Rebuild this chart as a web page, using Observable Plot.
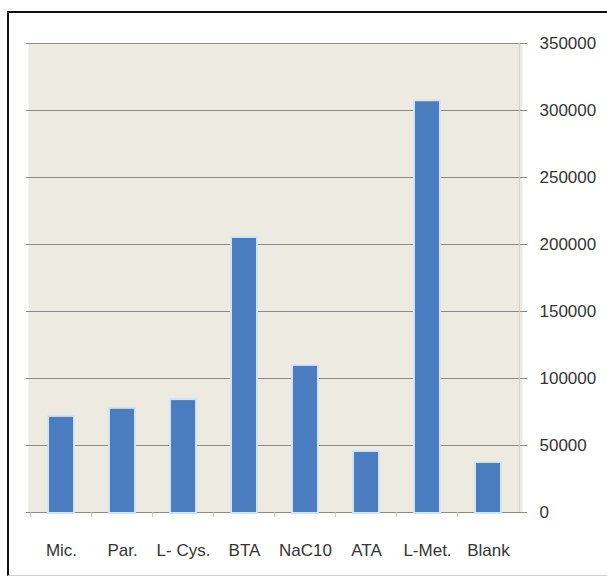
<!DOCTYPE html>
<html>
<head>
<meta charset="utf-8">
<script src="https://cdn.jsdelivr.net/npm/d3@7"></script>
<script src="https://cdn.jsdelivr.net/npm/@observablehq/plot@0.6"></script>
<style>
  html, body { margin: 0; padding: 0; background: #fff; }
  #wrap { position: relative; width: 607px; height: 576px; overflow: hidden; }
  #frame { position: absolute; left: 7px; top: 11px; width: 620px; height: 562px;
           border-top: 2px solid #111; border-left: 2px solid #111; border-bottom: 1px solid #cfcfcf; }
  #chart { position: absolute; left: 0; top: 0; }
  #chart svg { font-family: "Liberation Sans", Arial, sans-serif; }
</style>
</head>
<body>
<div id="wrap"><div id="frame"></div><div id="chart"></div></div>
<script>
const categories = ["Mic.", "Par.", "L- Cys.", "BTA", "NaC10", "ATA", "L-Met.", "Blank"];
const values = [71000, 77000, 83500, 204500, 109000, 44800, 306500, 36600];
const yTicks = [0, 50000, 100000, 150000, 200000, 250000, 300000, 350000];

const data = categories.map((c, i) => ({category: c, value: values[i]}));

const W = 607, H = 576, mL = 28, mR = 85, mT = 43, mB = 64;
const step = (W - mL - mR) / categories.length;

const chart = Plot.plot({
  width: W,
  height: H,
  marginLeft: mL,
  marginRight: mR,
  marginTop: mT,
  marginBottom: mB,
  style: {fontSize: "17px", color: "#353535", background: "transparent"},
  x: {domain: categories, paddingInner: 0.6, paddingOuter: 0.3},
  y: {domain: [0, 350000]},
  marks: [
    Plot.frame({fill: "#EDEAE2", stroke: "none"}),
    Plot.ruleY(yTicks, {stroke: "#8c8a84", strokeWidth: 1.2, insetLeft: -2, insetRight: -5}),
    Plot.ruleX(categories, {x: d => d, dx: -step / 2, y1: 0, y2: 0, insetBottom: -5, stroke: "#c4c4c4"}),
    Plot.ruleX([categories[categories.length - 1]], {x: d => d, dx: step / 2, stroke: "#d2cfc7"}),
    Plot.barY(data, {x: "category", y: "value", fill: "#d3e3f3", stroke: "#d3e3f3", strokeWidth: 4}),
    Plot.barY(data, {x: "category", y: "value", fill: "#4a7dc0"}),
    Plot.axisY({anchor: "right", ticks: yTicks, tickSize: 0, tickPadding: 17, tickFormat: d => String(d), label: null}),
    Plot.axisX({tickSize: 0, tickPadding: 31, label: null})
  ]
});
document.getElementById("chart").appendChild(chart);
</script>
</body>
</html>
